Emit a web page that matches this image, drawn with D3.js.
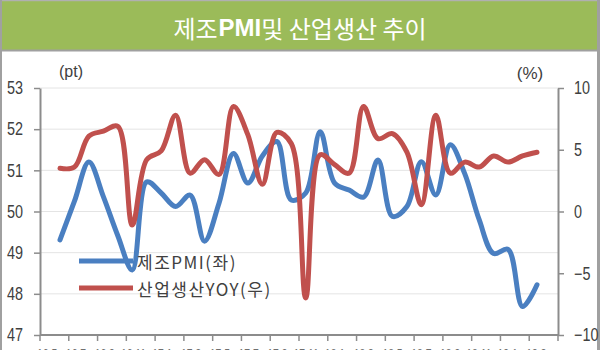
<!DOCTYPE html>
<html>
<head>
<meta charset="utf-8">
<script src="https://cdn.jsdelivr.net/npm/d3@7"></script>
<style>
  html, body { margin: 0; padding: 0; background: #fff; }
  svg { display: block; }
</style>
</head>
<body>
<svg id="chart" width="600" height="350"></svg>
<script>
// ---- Data ----
const months = ["16.06","16.07","16.08","16.09","16.10","16.11","16.12","17.01","17.02","17.03",
  "17.04","17.05","17.06","17.07","17.08","17.09","17.10","17.11","17.12","18.01",
  "18.02","18.03","18.04","18.05","18.06","18.07","18.08","18.09","18.10","18.11",
  "18.12","19.01","19.02","19.03"];
const pmi = [49.31, 50.25, 51.2, 50.36, 49.41, 48.58, 50.72, 50.45, 50.12, 50.4,
  49.28, 50.2, 51.41, 50.69, 51.35, 51.7, 50.28, 50.45, 51.94, 50.69,
  50.52, 50.35, 51.25, 49.88, 50.12, 51.21, 50.4, 51.62, 50.92, 49.8,
  48.98, 49.08, 47.69, 48.22];
const ipYoy = [3.5, 3.6, 6.1, 6.5, 6.9, -1.1, 4.2, 4.9, 7.8, 3.1,
  4.2, 3.0, 8.5, 6.2, 2.2, 6.4, 5.5, -7.0, 4.6, 3.8,
  3.1, 8.5, 5.9, 6.3, 4.8, 0.55, 7.8, 3.1, 4.0, 3.6,
  4.5, 4.0, 4.5, 4.8];
const tickLabels = ["16.5","16.7","16.9","16.11","17.1","17.3","17.5","17.7","17.9","17.11",
  "18.1","18.3","18.5","18.7","18.9","18.11","19.1","19.3"];
const leftTicks = [47, 48, 49, 50, 51, 52, 53];
const rightTicks = [-10, -5, 0, 5, 10];
const titleParts = ["제조", "PMI", "및 산업생산 추이"];
const seriesNames = ["제조PMI(좌)", "산업생산YOY(우)"];

// ---- Layout ----
const W = 600, H = 350;
const plot = { left: 40, right: 558, top: 88, bottom: 335 };
const BLUE = "#4a7fc1", RED = "#c0504d", AXIS = "#8c8c8c", TEXT = "#404040";
const numFont = "'Liberation Sans Narrow','Arial Narrow','Liberation Sans',sans-serif";
const krFont = "'Noto Sans CJK KR','Noto Sans',sans-serif";
const SX = 0.8; // horizontal condensing of numeric labels

const svg = d3.select("#chart");

// frame + title band
svg.append("rect").attr("x", 0).attr("y", 0).attr("width", W).attr("height", H).attr("fill", "#fff");
svg.append("rect").attr("x", 0).attr("y", 0).attr("width", W).attr("height", 50).attr("fill", "#9bbb59");
svg.append("line").attr("x1", 0).attr("x2", W).attr("y1", 50.5).attr("y2", 50.5).attr("stroke", "#a0a0a0").attr("stroke-width", 2);
svg.append("line").attr("x1", 0).attr("x2", W).attr("y1", 0.5).attr("y2", 0.5).attr("stroke", "#b0b0b0").attr("stroke-width", 1.5);
svg.append("line").attr("x1", 1).attr("x2", 1).attr("y1", 0).attr("y2", H).attr("stroke", "#a0a0a0").attr("stroke-width", 2);
svg.append("line").attr("x1", W - 1.5).attr("x2", W - 1.5).attr("y1", 0).attr("y2", H).attr("stroke", "#a0a0a0").attr("stroke-width", 3);

const title = svg.append("text").attr("x", 300).attr("y", 27)
  .attr("text-anchor", "middle").attr("dominant-baseline", "central")
  .attr("fill", "#fff").attr("font-family", krFont).attr("font-size", 24);
title.append("tspan").text(titleParts[0]);
title.append("tspan").attr("font-family", numFont).attr("font-weight", "bold").attr("dx", 1).text(titleParts[1]);
title.append("tspan").text(titleParts[2]);

// ---- Scales ----
const x = d3.scaleLinear().domain([0, months.length - 1]).range([60, 537]);
const xBand = d3.scaleBand().domain(tickLabels).range([plot.left, plot.right]);
const yL = d3.scaleLinear().domain([47, 53]).range([plot.bottom, plot.top]);
const yR = d3.scaleLinear().domain([-10, 10]).range([plot.bottom, plot.top]);

// gridlines
svg.append("g").selectAll("line").data(leftTicks.slice(1)).join("line")
  .attr("x1", plot.left).attr("x2", plot.right)
  .attr("y1", d => yL(d)).attr("y2", d => yL(d))
  .attr("stroke", "#e4e4e4").attr("stroke-width", 1);

// axes
function styleAxis(g) {
  g.select(".domain").attr("stroke", AXIS).attr("stroke-width", 2);
  g.selectAll(".tick line").attr("stroke", AXIS).attr("stroke-width", 1.5);
  g.selectAll(".tick text").attr("fill", TEXT).attr("font-family", numFont).attr("font-size", 18)
    .each(function () {
      const t = d3.select(this);
      const x0 = +t.attr("x");
      t.attr("x", x0 / SX).attr("transform", `scale(${SX},1)`);
    });
}
svg.append("g").attr("transform", `translate(${plot.left},0)`)
  .call(d3.axisLeft(yL).tickValues(leftTicks).tickSize(6).tickSizeOuter(0).tickPadding(11).tickFormat(d3.format("d")))
  .call(styleAxis);
svg.append("g").attr("transform", `translate(${plot.right},0)`)
  .call(d3.axisRight(yR).tickValues(rightTicks).tickSize(6).tickSizeOuter(0).tickPadding(10).tickFormat(d3.format("d")))
  .call(styleAxis);

// bottom axis: tick marks at band boundaries, labels at first category of each pair
const xAxisG = svg.append("g");
xAxisG.append("line").attr("x1", plot.left).attr("x2", plot.right)
  .attr("y1", plot.bottom).attr("y2", plot.bottom).attr("stroke", AXIS).attr("stroke-width", 2);
const tickXs = tickLabels.map(d => xBand(d)).concat([xBand(tickLabels[tickLabels.length - 1]) + xBand.bandwidth()]);
xAxisG.selectAll("line.tk").data(tickXs).join("line").attr("class", "tk")
  .attr("x1", d => d).attr("x2", d => d).attr("y1", plot.bottom).attr("y2", plot.bottom + 6)
  .attr("stroke", AXIS).attr("stroke-width", 1.5);
xAxisG.selectAll("text").data(tickLabels).join("text")
  .attr("x", d => (xBand(d) + xBand.bandwidth() / 4) / SX).attr("y", 358)
  .attr("transform", `scale(${SX},1)`)
  .attr("text-anchor", "middle").attr("fill", "#707070")
  .attr("font-family", numFont).attr("font-size", 13).text(d => d);

// unit labels
svg.append("text").attr("x", 71).attr("y", 71).attr("text-anchor", "middle").attr("dominant-baseline", "central")
  .attr("fill", TEXT).attr("font-family", numFont).attr("font-size", 16).text("(pt)");
svg.append("text").attr("x", 530).attr("y", 73).attr("text-anchor", "middle").attr("dominant-baseline", "central")
  .attr("fill", TEXT).attr("font-family", numFont).attr("font-size", 17).text("(%)");

// ---- Lines ----
const curve = d3.curveCatmullRom.alpha(0.5);
const lineL = d3.line().x((d, i) => x(i)).y(d => yL(d)).curve(curve);
const lineR = d3.line().x((d, i) => x(i)).y(d => yR(d)).curve(curve);
svg.append("path").datum(pmi).attr("d", lineL).attr("fill", "none")
  .attr("stroke", BLUE).attr("stroke-width", 5).attr("stroke-linejoin", "round").attr("stroke-linecap", "round");
svg.append("path").datum(ipYoy).attr("d", lineR).attr("fill", "none")
  .attr("stroke", RED).attr("stroke-width", 5).attr("stroke-linejoin", "round").attr("stroke-linecap", "round");

// ---- Legend ----
const legend = svg.append("g");
[BLUE, RED].forEach((c, i) => {
  const ly = 261 + i * 27;
  legend.append("line").attr("x1", 79).attr("x2", 133).attr("y1", ly).attr("y2", ly)
    .attr("stroke", c).attr("stroke-width", 5);
  legend.append("text").attr("x", 137).attr("y", ly).attr("dominant-baseline", "central")
    .attr("fill", TEXT).attr("font-family", krFont).attr("font-size", 17).attr("letter-spacing", 1.5)
    .text(seriesNames[i]);
});
</script>
</body>
</html>
